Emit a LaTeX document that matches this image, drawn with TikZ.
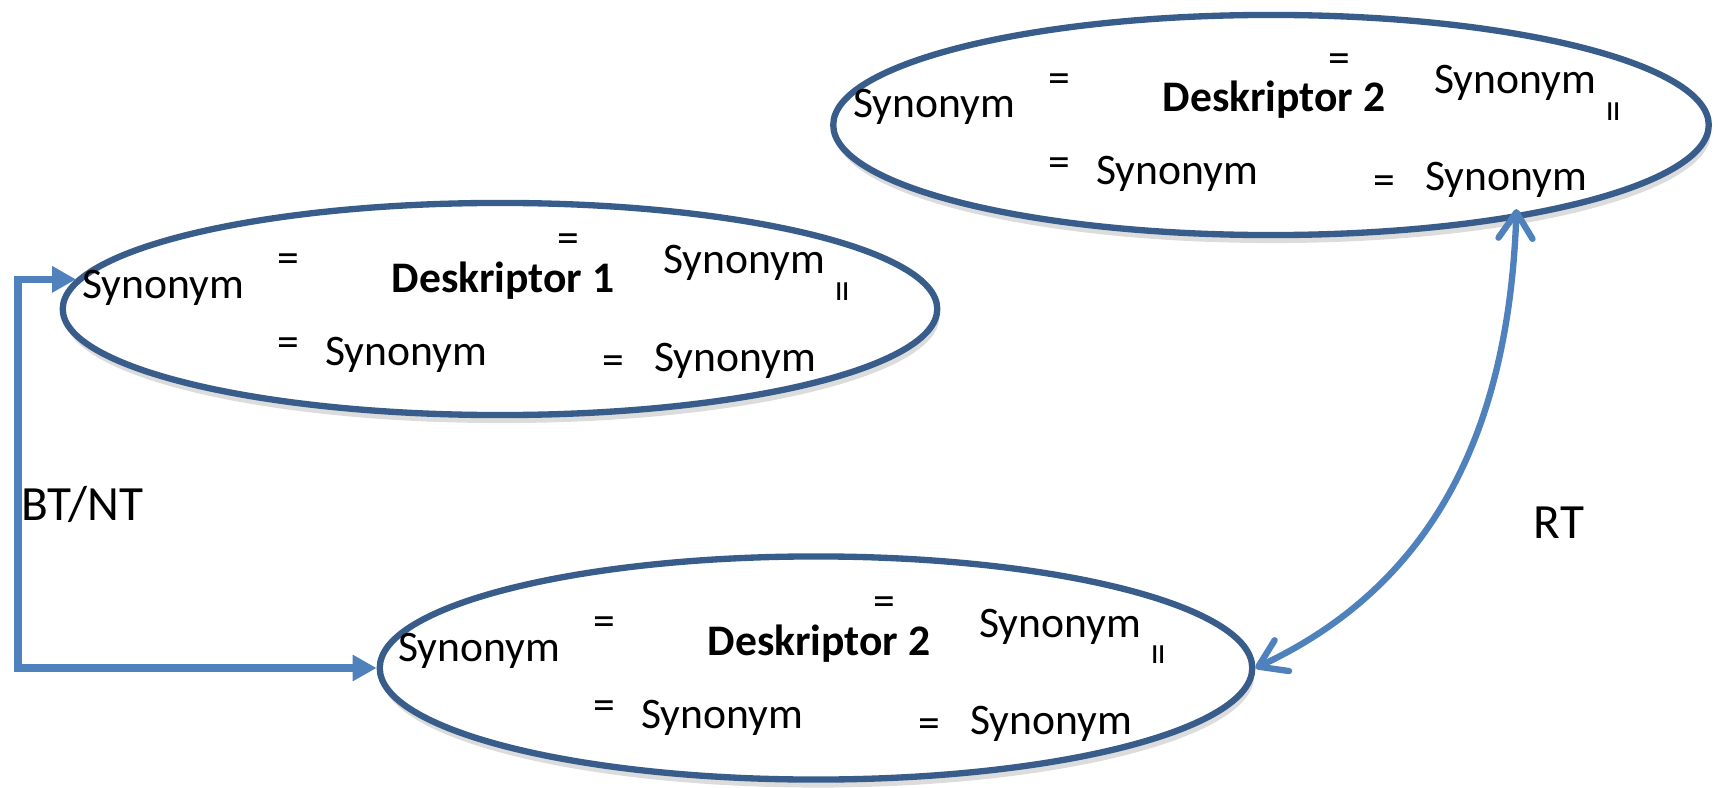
\documentclass[tikz,border=0pt]{standalone}
\usepackage{fontspec}
\setmainfont{Carlito}
\usetikzlibrary{shapes.geometric,shadows,arrows.meta}
\definecolor{ringBlue}{RGB}{56,93,138}
\definecolor{linkBlue}{RGB}{79,129,189}

\begin{document}
\begin{tikzpicture}[x=0.01cm, y=-0.01cm,
    ring/.style={ellipse, draw=ringBlue, line width=1.8pt, fill=white, inner sep=0pt,
      drop shadow={shadow xshift=0.2mm, shadow yshift=-0.8mm, opacity=0.28}},
    term/.style={font=\fontsize{12.4}{15}\selectfont, inner sep=0pt, anchor=base},
    desk/.style={font=\fontsize{12.4}{15}\selectfont\bfseries, inner sep=0pt, anchor=base},
    eqsign/.style={font=\fontsize{12.4}{15}\selectfont, inner sep=0pt},
    tag/.style={font=\fontsize{14}{17}\selectfont, inner sep=0pt, anchor=base west}]
  \useasboundingbox (0,0) rectangle (1718,788);

  % descriptor rings
  \node[ring, minimum width=8.74cm, minimum height=2.12cm] (e1) at (500,309) {};
  \node[ring, minimum width=8.75cm, minimum height=2.2cm] (e2) at (1271,125) {};
  \node[ring, minimum width=8.72cm, minimum height=2.23cm] (e3) at (816,668) {};

  % terms inside each ring
  \foreach \r/\cx/\cy/\dnum in {e1/500/304/1, e2/1271/124/2, e3/816/667/2} {
    \node[term] (\r-s1) at ({\cx-337},{\cy-6}) {Synonym};
    \node[eqsign] (\r-q1) at ({\cx-212},{\cy-41}) {=};
    \node[desk] (\r-d) at ({\cx+3},{\cy-12}) {Deskriptor \dnum};
    \node[eqsign] (\r-q2) at ({\cx+68},{\cy-61}) {=};
    \node[term] (\r-s2) at ({\cx+244},{\cy-30}) {Synonym};
    \node[eqsign, rotate=90] (\r-q3) at ({\cx+347},{\cy-12}) {=};
    \node[eqsign] (\r-q4) at ({\cx-212},{\cy+43}) {=};
    \node[term] (\r-s3) at ({\cx-94},{\cy+61}) {Synonym};
    \node[eqsign] (\r-q5) at ({\cx+113},{\cy+61}) {=};
    \node[term] (\r-s4) at ({\cx+235},{\cy+67}) {Synonym};
  }

  % relations
  \draw[linkBlue, line width=2.1pt, {Triangle[length=2.4mm,width=2.5mm]}-{Triangle[length=2.4mm,width=2.5mm]}]
    (e1.176) -- ++(-58,0) |- (e3.west);
  \draw[linkBlue, line width=1.8pt, {Straight Barb[length=2.6mm,width=3.4mm,round]}-{Straight Barb[length=2.6mm,width=3.4mm,round]}, shorten <=-1mm]
    (e2.-21) .. controls +(-7,203) and +(184,-86) .. (e3.east);

  \node[tag] (btnt) at (21,520) {BT/NT};
  \node[tag] (rt) at (1533,538) {RT};
\end{tikzpicture}
\end{document}
